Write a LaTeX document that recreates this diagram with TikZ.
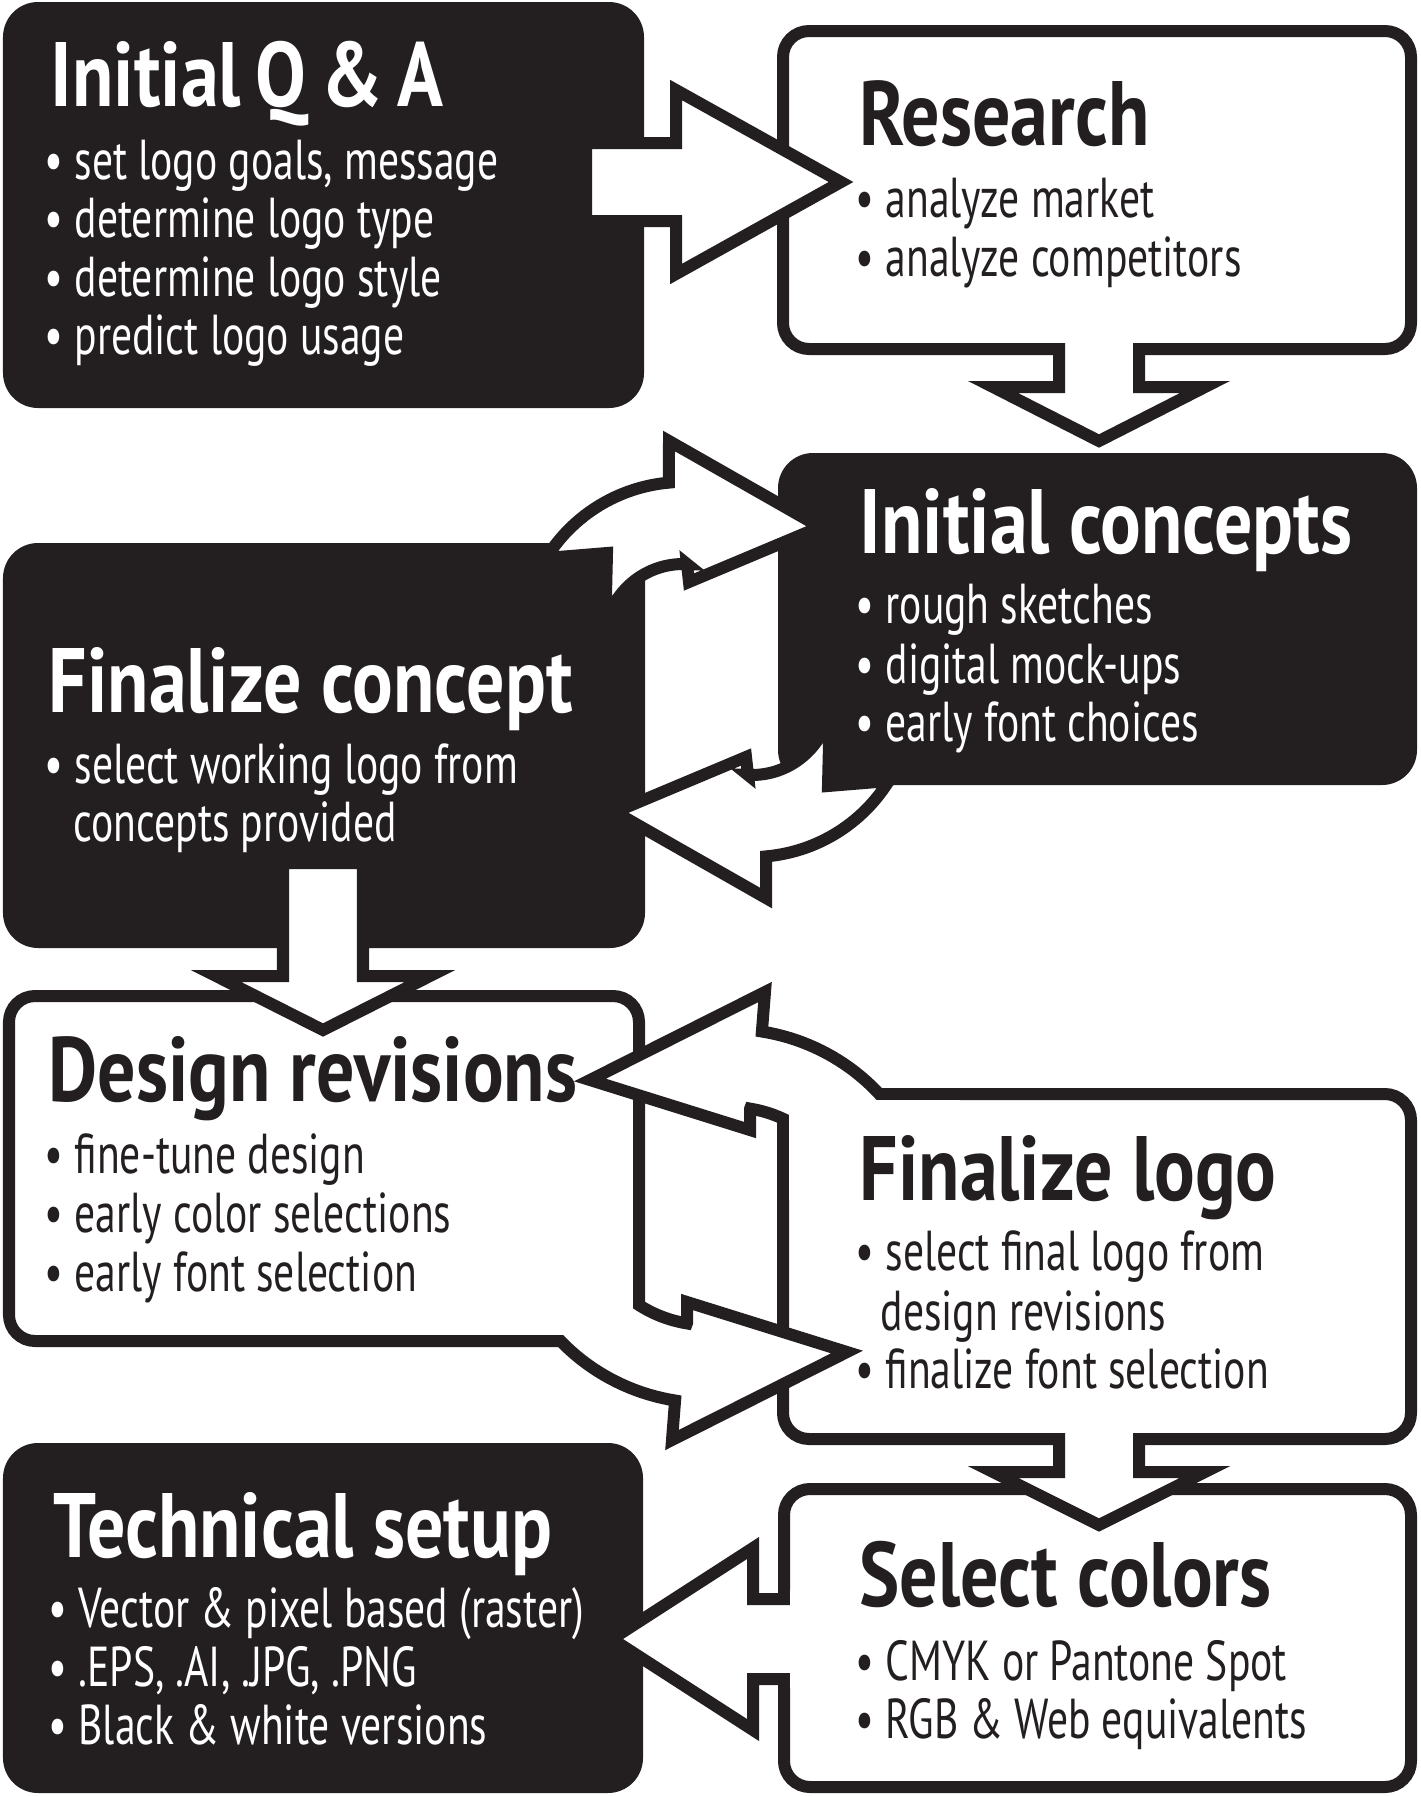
\documentclass[tikz,border=0pt]{standalone}
\usepackage{fontspec}
\setmainfont{PT Sans}
\newfontfamily\headfont{PT Sans}[FakeStretch=0.83]
\newfontfamily\itemfont{PT Sans}[FakeStretch=0.74]
\definecolor{ink}{HTML}{231F20}
\tikzset{
  blackbox/.style={fill=ink, rounded corners=3.5mm},
  whitebox/.style={draw=ink, fill=white, line width=1.2mm, rounded corners=2.6mm},
  blockarrow/.style={draw=ink, fill=white, line width=1.2mm, line join=miter},
  patch/.style={fill=white},
  title/.style={anchor=base west, inner sep=0pt, font=\headfont\bfseries\fontsize{26}{30}\selectfont},
  item/.style={anchor=base west, inner sep=0pt, font=\itemfont\fontsize{16}{19}\selectfont},
  ondark/.style={text=white},
  onlight/.style={text=ink}
}
% curved arrows, screen units (y down)
\newcommand{\swingpath}{(669,441) -- (820,527) -- (689,582) -- (687,564)
  -- plot[domain=273:190, samples=30] ({683+79*cos(\x)}, {643+79*sin(\x)})
  -- (607,553) -- (546,558)
  -- plot[domain=212:265, samples=30] ({683+161*cos(\x)}, {643+161*sin(\x)})
  -- cycle}
\newcommand{\hookpath}{(765,992) -- (590,1080) -- (750,1130) -- (750,1109)
  -- plot[domain=279.2:335, samples=30] ({730+126*cos(\x)}, {1233+126*sin(\x)})
  -- plot[domain=335:279, samples=30] ({730+204*cos(\x)}, {1233+204*sin(\x)})
  -- cycle}
\begin{document}
\begin{tikzpicture}[x=0.01cm, y=-0.01cm]
  \useasboundingbox (0,0) rectangle (1421,1796);
  % boxes
  \fill[blackbox] (3,2) rectangle (644,408);
  \draw[whitebox] (783,31) rectangle (1411,349);
  \fill[blackbox] (778,453) rectangle (1417,785);
  \fill[blackbox] (3,543) rectangle (645,948);
  \draw[whitebox] (9,996) rectangle (639,1341);
  \draw[whitebox] (783,1094) rectangle (1411,1439);
  \fill[blackbox] (3,1443) rectangle (643,1793);
  \draw[whitebox] (784,1489) rectangle (1411,1787);
  % straight arrows
  \draw[blockarrow] (586,143) -- (676,143) -- (676,90) -- (841,182) -- (676,274) -- (676,221) -- (586,221) -- cycle;
  \draw[blockarrow] (1059,325) -- (1059,387) -- (993,387) -- (1099,441) -- (1205,387) -- (1139,387) -- (1139,325) -- cycle;
  \fill[patch] (1050,315) rectangle (1148,343);
  \draw[blockarrow] (283,863) -- (283,976) -- (216,976) -- (323,1030) -- (430,976) -- (363,976) -- (363,863) -- cycle;
  \draw[blockarrow] (1059,1415) -- (1059,1472) -- (993,1472) -- (1099,1525) -- (1205,1472) -- (1139,1472) -- (1139,1415) -- cycle;
  \fill[patch] (1050,1405) rectangle (1148,1433);
  \draw[blockarrow] (815,1599) -- (753,1599) -- (753,1548) -- (612,1639) -- (753,1730) -- (753,1679) -- (815,1679) -- cycle;
  \fill[patch] (790,1590) rectangle (825,1688);
  % loop between the two concept boxes
  \draw[blockarrow] \swingpath;
  \begin{scope}[rotate around={180:(717.5,669.5)}]
    \draw[blockarrow] \swingpath;
  \end{scope}
  % loop between revisions and final logo
  \draw[blockarrow] \hookpath;
  \fill[patch] (789,1100) rectangle (960,1200);
  \begin{scope}[rotate around={180:(718.5,1216)}]
    \draw[blockarrow] \hookpath;
  \end{scope}
  \fill[patch] (477,1232) rectangle (633,1335);
  % text
  \node[title, ondark] (qaT) at (50,106) {Initial\kern0.16em Q\kern0.16em\&\kern0.16em A};
  \node[item, ondark] (qa1) at (44,179) {• set logo goals, message};
  \node[item, ondark] (qa2) at (44,237) {• determine logo type};
  \node[item, ondark] (qa3) at (44,296) {• determine logo style};
  \node[item, ondark] (qa4) at (44,354) {• predict logo usage};
  \node[title, onlight] (resT) at (859,145) {Research};
  \node[item, onlight] (res1) at (855,217) {• analyze market};
  \node[item, onlight] (res2) at (855,276) {• analyze competitors};
  \node[title, ondark] (icT) at (859,553) {Initial concepts};
  \node[item, ondark] (ic1) at (855,623) {• rough sketches};
  \node[item, ondark] (ic2) at (855,683) {• digital mock-ups};
  \node[item, ondark] (ic3) at (855,741) {• early font choices};
  \node[title, ondark] (fcT) at (48,712) {Finalize concept};
  \node[item, ondark] (fc1) at (44,783) {• select working logo from};
  \node[item, ondark] (fc2) at (73,841) {concepts provided};
  \node[title, onlight] (drT) at (48,1101) {Design revisions};
  \node[item, onlight] (dr1) at (44,1173) {• fine-tune design};
  \node[item, onlight] (dr2) at (44,1232) {• early color selections};
  \node[item, onlight] (dr3) at (44,1291) {• early font selection};
  \node[title, onlight] (flT) at (859,1200) {Finalize logo};
  \node[item, onlight] (fl1) at (855,1270) {• select final logo from};
  \node[item, onlight] (fl2) at (880,1330) {design revisions};
  \node[item, onlight] (fl3) at (855,1388) {• finalize font selection};
  \node[title, ondark] (tsT) at (53,1557) {Technical setup};
  \node[item, ondark] (ts1) at (48,1627) {• Vector \& pixel based (raster)};
  \node[item, ondark] (ts2) at (48,1686) {• .EPS, .AI, .JPG, .PNG};
  \node[item, ondark] (ts3) at (48,1744) {• Black \& white versions};
  \node[title, onlight] (scT) at (859,1606) {Select colors};
  \node[item, onlight] (sc1) at (855,1680) {• CMYK or Pantone Spot};
  \node[item, onlight] (sc2) at (855,1738) {• RGB \& Web equivalents};
\end{tikzpicture}
\end{document}
